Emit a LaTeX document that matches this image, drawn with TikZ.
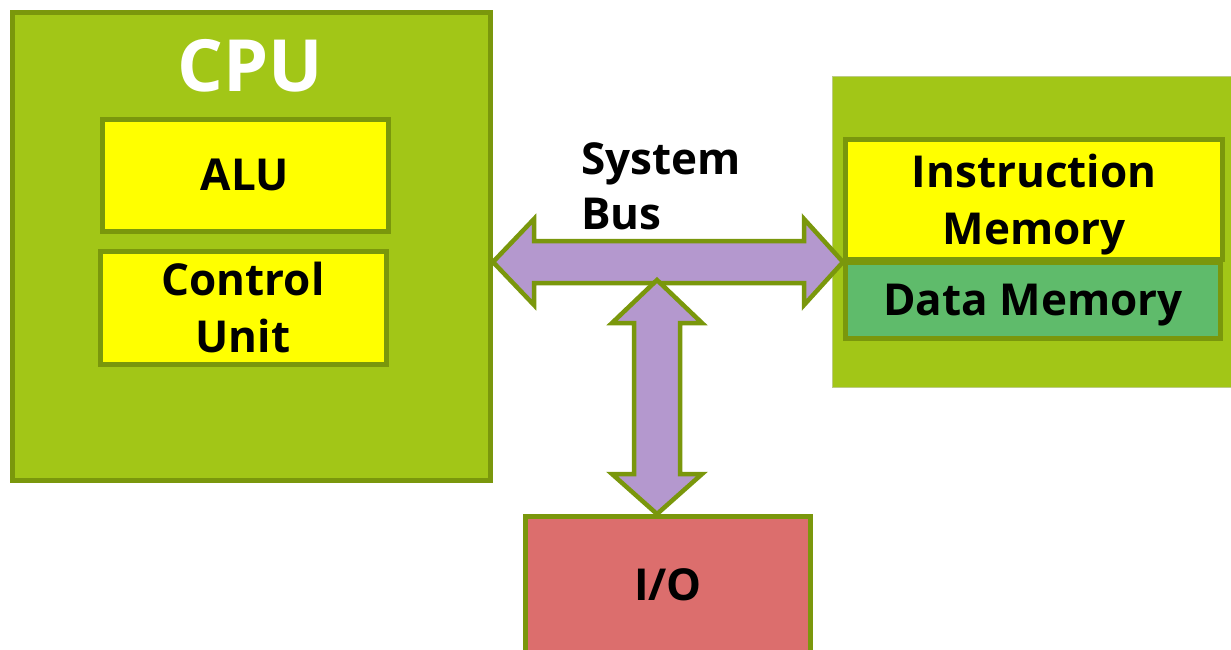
\documentclass[tikz,border=0pt]{standalone}
\usepackage{fontspec}
\setmainfont{Open Sans}
\usetikzlibrary{calc}
\definecolor{cpuGreen}{RGB}{162,198,23}
\definecolor{edgeOlive}{RGB}{122,151,12}
\definecolor{unitYellow}{RGB}{255,255,0}
\definecolor{dataGreen}{RGB}{95,187,107}
\definecolor{busPurple}{RGB}{180,152,206}
\definecolor{ioRed}{RGB}{220,110,109}

\begin{document}
\begin{tikzpicture}[x=1pt, y=-1pt]
    \tikzstyle{box} = [rectangle, draw=edgeOlive, line width=5pt, inner sep=0pt, align=center, text=black, font=\bfseries\fontsize{44}{57}\selectfont]
    \tikzstyle{bus} = [draw=edgeOlive, line width=4.5pt, fill=busPurple, line join=miter]

    \useasboundingbox (0,0) rectangle (1231,649);
    \clip (0,0) rectangle (1231,649);

    \node[box, fill=cpuGreen, minimum width=478pt, minimum height=468pt] (cpu) at (251.5,246.5) {};
    \node[text=white, font=\bfseries\fontsize{72}{72}\selectfont] (cputitle) at (250,66) {CPU};
    \node[box, fill=unitYellow, minimum width=286pt, minimum height=112pt] (alu) at (245,175) {ALU};
    \node[box, fill=unitYellow, minimum width=286pt, minimum height=113pt] (cu) at (243,307.5) {Control\\Unit};

    \node[box, fill=cpuGreen, draw=edgeOlive!50, line width=1pt, minimum width=407pt, minimum height=311pt] (mem) at (1036,231.5) {};
    \node[box, fill=unitYellow, minimum width=377pt, minimum height=120pt] (im) at (1034,199.5) {\rule{0pt}{43pt}Instruction\\Memory};
    \node[box, fill=dataGreen, minimum width=375pt, minimum height=76pt, text height=41pt] (dm) at (1033,300) {Data Memory};

    \node[box, fill=ioRed, minimum width=285pt, minimum height=136pt] (io) at (668,584.5) {I/O};

    \node[anchor=west, inner sep=0pt, align=left, font=\bfseries\fontsize{44}{55}\selectfont] (sysbus) at (581,186) {System\\Bus};

    \coordinate (busR) at (im.south west);
    \coordinate (busL) at (cpu.east |- busR);
    \coordinate (ioB) at ($(io.north)+(-11,0)$);
    \coordinate (ioT) at ($(ioB |- busL)+(0,18)$);

    \draw[bus] (busL) -- ++(41,-43) -- ++(0,22) -- ($(busR)+(-39,-21)$) -- ++(0,-22) -- (busR)
        -- ++(-39,43) -- ++(0,-22) -- ($(busL)+(41,21)$) -- ++(0,22) -- cycle;
    \draw[bus] (ioT) -- ++(45,43) -- ++(-22,0) -- ($(ioB)+(23,-40)$) -- ++(22,0) -- (ioB)
        -- ++(-45,-40) -- ++(22,0) -- ($(ioT)+(-23,43)$) -- ++(-22,0) -- cycle;
\end{tikzpicture}
\end{document}
